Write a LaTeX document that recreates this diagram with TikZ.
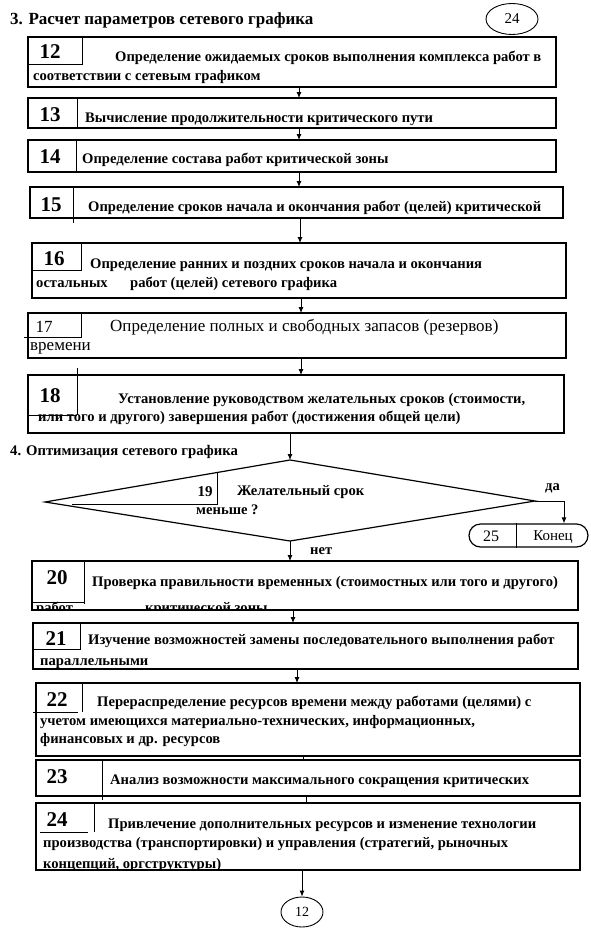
\documentclass[tikz,border=0pt]{standalone}
\usepackage{fontspec}
\setmainfont{Liberation Serif}
\usetikzlibrary{arrows.meta,shapes.geometric}
\begin{document}
\begin{tikzpicture}[x=1pt,y=-1pt,
  box/.style={draw, line width=1.2pt, inner sep=0, outer sep=0, anchor=north west},
  cell/.style={line width=0.9pt},
  num/.style={font=\bfseries\fontsize{21}{21}\selectfont, inner sep=0},
  numr/.style={font=\fontsize{17}{17}\selectfont, inner sep=0},
  txt/.style={font=\bfseries\fontsize{14.6}{14.6}\selectfont, anchor=west, inner sep=0},
  txtr/.style={font=\fontsize{17}{17}\selectfont, anchor=west, inner sep=0},
  head/.style={font=\bfseries\fontsize{17}{17}\selectfont, anchor=west, inner sep=0},
  headb/.style={font=\bfseries\fontsize{14.7}{14.7}\selectfont, anchor=west, inner sep=0},
  arr/.style={line width=0.9pt, -{Latex[length=6pt,width=5pt]}},
  conn/.style={line width=0.9pt}
]
\useasboundingbox (0,0) rectangle (590,930);
\fill[white] (0,0) rectangle (590,930);

% heading
\node[head] (h3) at (10,20) {3. Расчет параметров сетевого графика};
\node[draw, line width=0.9pt, ellipse, minimum width=52, minimum height=31, inner sep=0, font=\fontsize{15}{15}\selectfont] (c24) at (512,19) {24};

% box 12
\node[box, minimum width=528, minimum height=50] (b12) at (28,37) {};
\draw[cell] (82,37) -- (82,64) -- (28,64);
\node[num] (n12) at (50,52) {12};
\node[txt] (t12a) at (115,58) {Определение ожидаемых сроков выполнения комплекса работ в};
\node[txt] (t12b) at (33,77) {соответствии с сетевым графиком};

% box 13
\node[box, minimum width=528, minimum height=30] (b13) at (28,98) {};
\draw[cell] (77,98) -- (77,128);
\node[num] (n13) at (50,115) {13};
\node[txt] (t13) at (85,119) {Вычисление продолжительности критического пути};

% box 14
\node[box, minimum width=528, minimum height=32] (b14) at (28,140) {};
\draw[cell] (76,140) -- (76,172);
\node[num] (n14) at (50,157) {14};
\node[txt] (t14) at (82,160) {Определение состава работ критической зоны};

% box 15
\node[box, minimum width=533, minimum height=31] (b15) at (30,187) {};
\draw[cell] (73,187) -- (73,223);
\node[num] (n15) at (51,205) {15};
\node[txt] (t15) at (88,208) {Определение сроков начала и окончания работ (целей) критической};

% box 16
\node[box, minimum width=534, minimum height=55] (b16) at (32,243) {};
\draw[cell] (81,243) -- (81,270) -- (32,270);
\node[num] (n16) at (54,259) {16};
\node[txt] (t16a) at (90,265) {Определение ранних и поздних сроков начала и окончания};
\node[txt] (t16b) at (36,284) {остальных};
\node[txt] (t16c) at (130,284) {работ (целей) сетевого графика};

% box 17
\node[box, minimum width=538, minimum height=45] (b17) at (28,313) {};
\draw[cell] (81,313) -- (81,337) -- (24,337);
\node[numr] (n17) at (44,327) {17};
\node[txtr] (t17a) at (110,327) {Определение полных и свободных запасов (резервов)};
\node[txtr] (t17b) at (30,348) {времени};

% box 18
\node[box, minimum width=536, minimum height=58] (b18) at (28,375) {};
\draw[cell] (77,368) -- (77,415);
\draw[cell] (28,415) -- (77,415);
\node[num] (n18) at (50,396) {18};
\node[txt] (t18a) at (118,400) {Установление руководством желательных сроков (стоимости,};
\node[txt] (t18b) at (38,418) {или того и другого) завершения работ (достижения общей цели)};

% heading 4
\node[headb] (h4) at (10,452) {4. Оптимизация сетевого графика};

% diamond 19
\coordinate (dT) at (290,460);
\coordinate (dL) at (45,502);
\coordinate (dB) at (290,541);
\coordinate (dR) at (535,501);
\draw[line width=1.2pt] (dT) -- (dR) -- (dB) -- (dL) -- cycle;
\draw[cell] (217,473) -- (217,504) -- (72,504);
\node[font=\bfseries\fontsize{15}{15}\selectfont, inner sep=0] (n19) at (205,492) {19};
\node[txt] (t19a) at (237,492) {Желательный срок};
\node[txt] (t19b) at (196,510) {меньше ?};
\node[txt] (yes) at (545,488) {да};
\node[txt] (no) at (310,551) {нет};

% end terminal 25
\node[draw, line width=1.2pt, rounded corners=11.5pt, minimum width=119, minimum height=23, inner sep=0] (end) at (528.5,535.5) {};
\draw[cell] (end.north -| 516,0) -- (end.south -| 516,0);
\node[font=\fontsize{16}{16}\selectfont, inner sep=0] (n25) at (491,536) {25};
\node[font=\fontsize{15}{15}\selectfont, inner sep=0] (tend) at (553,537) {Конец};

% box 20
\node[box, minimum width=546, minimum height=49] (b20) at (32,561) {};
\draw[cell] (84,561) -- (84,604);
\draw[cell] (32,602) -- (84,602);
\node[num] (n20) at (57,578) {20};
\node[txt] (t20a) at (92,583) {Проверка правильности временных (стоимостных или того и другого)};
\begin{scope}
\clip (b20.north west) rectangle (b20.south east);
\node[txt] (t20b) at (36,609) {работ};
\node[txt] (t20c) at (145,609) {критической зоны};
\end{scope}

% box 21
\node[box, minimum width=545, minimum height=46] (b21) at (33,623) {};
\draw[cell] (80,623) -- (80,649) -- (33,649);
\node[num] (n21) at (56,639) {21};
\node[txt] (t21a) at (88,641) {Изучение возможностей замены последовательного выполнения работ};
\begin{scope}
\clip (b21.north west) rectangle (b21.south east);
\node[txt] (t21b) at (40,664) {параллельными};
\end{scope}

% box 22
\node[box, minimum width=544, minimum height=73] (b22) at (36,683) {};
\draw[cell] (82,683) -- (82,712);
\draw[cell] (33,712) -- (78,712);
\node[num] (n22) at (57,700) {22};
\node[txt] (t22a) at (97,703) {Перераспределение ресурсов времени между работами (целями) с};
\node[txt] (t22b) at (40,722) {учетом имеющихся материально-технических, информационных,};
\node[txt] (t22c) at (40,740) {финансовых и др. ресурсов};

% box 23
\node[box, minimum width=544, minimum height=36] (b23) at (36,760) {};
\draw[cell] (102,760) -- (102,800);
\node[num] (n23) at (57,777) {23};
\node[txt] (t23) at (110,781) {Анализ возможности максимального сокращения критических};

% box 24
\node[box, minimum width=544, minimum height=67] (b24) at (36,803) {};
\draw[cell] (94,803) -- (94,832);
\draw[cell] (40,832) -- (88,832);
\node[num] (n24) at (57,820) {24};
\node[txt] (t24a) at (108,825) {Привлечение дополнительных ресурсов и изменение технологии};
\node[txt] (t24b) at (43,844) {производства (транспортировки) и управления (стратегий, рыночных};
\begin{scope}
\clip (b24.north west) rectangle (b24.south east);
\node[txt] (t24c) at (43,865) {концепций, оргструктуры)};
\end{scope}

% ellipse 12
\node[draw, line width=0.9pt, ellipse, minimum width=42, minimum height=30, inner sep=0, font=\fontsize{14}{14}\selectfont] (c12) at (302,912) {12};

% connectors
\draw[arr] (b12.south -| 299,0) -- (b13.north -| 299,0);
\draw[arr] (b13.south -| 299,0) -- (b14.north -| 299,0);
\draw[arr] (b14.south -| 299,0) -- (b15.north -| 299,0);
\draw[arr] (b15.south -| 300,0) -- (b16.north -| 300,0);
\draw[arr] (b16.south -| 301,0) -- (b17.north -| 301,0);
\draw[arr] (b17.south -| 301,0) -- (b18.north -| 301,0);
\draw[arr] (b18.south -| dT) -- (dT);
\draw[arr] (dR) -- (564,501) -- (end.north -| 564,0);
\draw[arr] (dB) -- (b20.north -| dB);
\draw[arr] (b20.south -| 293,0) -- (b21.north -| 293,0);
\draw[arr] (b21.south -| 297,0) -- (b22.north -| 297,0);
\draw[conn] (b22.south -| 303,0) -- (b23.north -| 303,0);
\draw[conn] (b23.south -| 306,0) -- (b24.north -| 306,0);
\draw[arr] (b24.south -| 302,0) -- (c12.north);
\end{tikzpicture}
\end{document}
